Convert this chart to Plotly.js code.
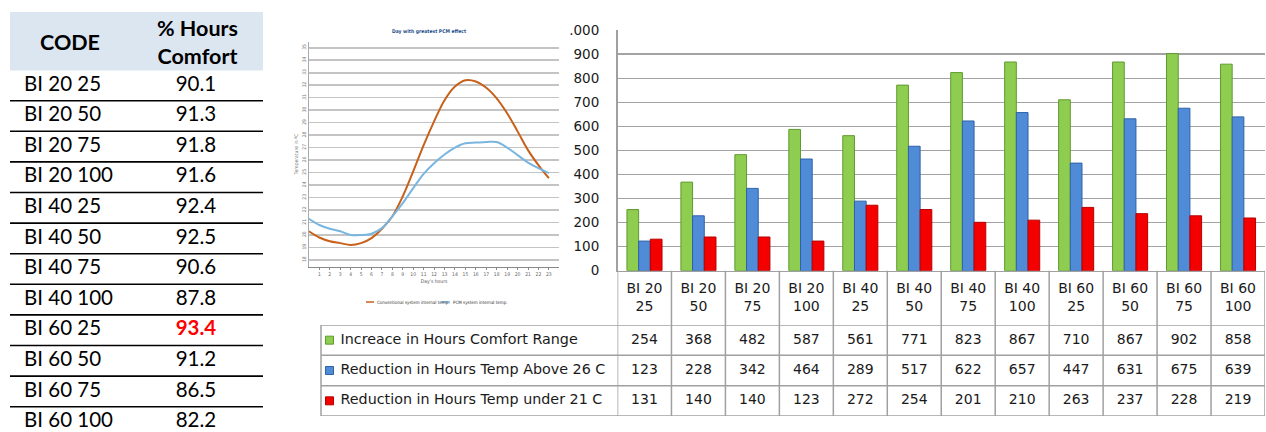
<!DOCTYPE html>
<html><head><meta charset="utf-8">
<script src="https://cdn.plot.ly/plotly-3.0.1.min.js"></script>
<style>html,body{margin:0;padding:0;background:#fff;}#chart{width:1266px;height:432px;}</style>
</head><body><div id="chart"></div>
<script>
// ---- Left table ----
const codes = ['BI 20 25','BI 20 50','BI 20 75','BI 20 100','BI 40 25','BI 40 50','BI 40 75','BI 40 100','BI 60 25','BI 60 50','BI 60 75','BI 60 100'];
const comfortPct = [90.1,91.3,91.8,91.6,92.4,92.5,90.6,87.8,93.4,91.2,86.5,82.2];
const tableHeaders = ['CODE','% Hours<br>Comfort'];

// ---- Line chart (Day with greatest PCM effect) ----
const hours = [0,1,2,3,4,5,6,7,8,9,10,11,12,13,14,15,16,17,18,19,20,21,22,23];
const conventionalTemp = [20.3,19.8,19.5,19.35,19.2,19.35,19.75,20.5,21.5,23.1,25.1,27.2,29.1,30.8,31.9,32.4,32.3,31.8,30.95,29.75,28.3,26.8,25.6,24.55];
const pcmTemp = [21.3,20.8,20.5,20.3,20.0,20.0,20.1,20.55,21.5,22.55,23.75,24.9,25.75,26.45,27.0,27.35,27.4,27.45,27.45,27.0,26.4,25.8,25.35,24.95];
const lineNames = ['Conventional system internal temp.','PCM system internal temp.'];
const hourTicks = [1,2,3,4,5,6,7,8,9,10,11,12,13,14,15,16,17,18,19,20,21,22,23];
const tempTicks = [18,19,20,21,22,23,24,25,26,27,28,29,30,31,32,33,34,35];

// ---- Bar chart ----
const categories = codes;
const seriesNames = ['Increace in Hours Comfort Range','Reduction in Hours Temp Above 26 C','Reduction in Hours Temp under 21 C'];
const increaseComfort = [254,368,482,587,561,771,823,867,710,867,902,858];
const reductionAbove26 = [123,228,342,464,289,517,622,657,447,631,675,639];
const reductionUnder21 = [131,140,140,123,272,254,201,210,263,237,228,219];
const yTickVals = [0,100,200,300,400,500,600,700,800,900,1000];
const yTickText = ['0','100','200','300','400','500','600','700','800','900','.000'];

const W = 1266, H = 432;
const px = v => v / W;
const py = v => 1 - v / H;

const barSeries = [increaseComfort, reductionAbove26, reductionUnder21];
const barColors = ['#8fcd50','#4f8bd6','#f50000'];
const barEdges = ['#5f9a30','#2f62a8','#b40000'];
const catLabels = categories.map(c => { const i = c.lastIndexOf(' '); return c.slice(0,i) + '<br>' + c.slice(i+1); });

const traces = [];
barSeries.forEach((vals, s) => {
  traces.push({type:'bar', x: categories, y: vals, name: seriesNames[s], xaxis:'x', yaxis:'y',
    marker:{color: barColors[s], line:{color: barEdges[s], width:1}}, showlegend:false, hoverinfo:'skip'});
});
// data table numbers
barSeries.forEach((vals, s) => {
  traces.push({type:'scatter', mode:'text', x: categories, y: vals.map(() => s), text: vals.map(String),
    xaxis:'x', yaxis:'y3', textfont:{family:'DejaVu Sans', size:14, color:'#1a1a1a'}, cliponaxis:false,
    showlegend:false, hoverinfo:'skip'});
});
// data table legend column: keys and names
traces.push({type:'scatter', mode:'markers', x: seriesNames.map(() => 0), y: seriesNames.map((n, i) => i),
  xaxis:'x3', yaxis:'y3', cliponaxis:false,
  marker:{symbol:'square', size:8, color: barColors, line:{color: barEdges, width:1}},
  showlegend:false, hoverinfo:'skip'});
traces.push({type:'scatter', mode:'text', x: seriesNames.map(() => 1), y: seriesNames.map((n, i) => i),
  text: seriesNames, textposition:'middle right', xaxis:'x3', yaxis:'y3', cliponaxis:false,
  textfont:{family:'DejaVu Sans', size:14.3, color:'#1a1a1a'}, showlegend:false, hoverinfo:'skip'});
// line chart
traces.push({type:'scatter', mode:'lines', x: hours, y: conventionalTemp, name: lineNames[0], xaxis:'x2', yaxis:'y2',
  line:{color:'#c8601a', width:2, shape:'spline'}, showlegend:false, hoverinfo:'skip'});
traces.push({type:'scatter', mode:'lines', x: hours, y: pcmTemp, name: lineNames[1], xaxis:'x2', yaxis:'y2',
  line:{color:'#78b6e0', width:2, shape:'spline'}, showlegend:false, hoverinfo:'skip'});
// left table
const maxPct = Math.max(...comfortPct);
traces.push({type:'scatter', mode:'text', x: codes.map(() => 0), y: codes.map((c, i) => i), text: codes,
  textposition:'middle right', xaxis:'x4', yaxis:'y4', cliponaxis:false,
  textfont:{family:'Lato', size:20.5, color:'#000'}, showlegend:false, hoverinfo:'skip'});
traces.push({type:'scatter', mode:'text', x: comfortPct.map(() => 1), y: comfortPct.map((v, i) => i),
  text: comfortPct.map(v => v === maxPct ? '<b>' + v.toFixed(1) + '</b>' : v.toFixed(1)),
  xaxis:'x4', yaxis:'y4', cliponaxis:false,
  textfont:{family:'Lato', size:20.5, color: comfortPct.map(v => v === maxPct ? '#ff0000' : '#000')},
  showlegend:false, hoverinfo:'skip'});

const shapes = [];
// left table header background
shapes.push({type:'rect', xref:'paper', yref:'paper', x0:px(10), x1:px(263), y0:py(12), y1:py(70.5),
  fillcolor:'#dce6f1', line:{width:0}, layer:'below'});
for (let i = 0; i < codes.length - 1; i++) {
  shapes.push({type:'line', xref:'paper', yref:'y4', x0:px(10), x1:px(263), y0:i+0.5, y1:i+0.5, line:{color:'#000', width:1.6}});
}
// data table grid
for (let i = 0; i <= categories.length; i++) {
  shapes.push({type:'line', xref:'x', yref:'paper', x0:i-0.5, x1:i-0.5, y0:py(270.7), y1:py(416), line:{color:'#a0a0a0', width:1.5}});
}
for (let r = 0; r <= seriesNames.length; r++) {
  shapes.push({type:'line', xref:'paper', yref:'y3', x0:px(321), x1:px(1265), y0:r-0.5, y1:r-0.5, line:{color:'#a0a0a0', width:1.5}});
}
shapes.push({type:'line', xref:'paper', yref:'y3', x0:px(321), x1:px(321), y0:-0.5, y1:seriesNames.length-0.5, line:{color:'#a0a0a0', width:1.5}});
// line chart legend keys
shapes.push({type:'line', xref:'paper', yref:'paper', x0:px(366), x1:px(374), y0:py(302), y1:py(302), line:{color:'#c8601a', width:1.5}});
shapes.push({type:'line', xref:'paper', yref:'paper', x0:px(441), x1:px(450), y0:py(302), y1:py(302), line:{color:'#78b6e0', width:1.5}});

const annotations = [
  {xref:'paper', yref:'paper', x:px(70), y:py(42), text:'<b>' + tableHeaders[0] + '</b>', showarrow:false,
   font:{family:'Lato', size:21.5, color:'#000'}, xanchor:'center', yanchor:'middle'},
  {xref:'paper', yref:'paper', x:px(197), y:py(42), text:'<b>' + tableHeaders[1] + '</b>', showarrow:false,
   font:{family:'Lato', size:21.5, color:'#000'}, xanchor:'center', yanchor:'middle'},
  {xref:'paper', yref:'paper', x:px(430), y:py(31), text:'<b>Day with greatest PCM effect</b>', showarrow:false,
   font:{family:'DejaVu Sans Condensed', size:5, color:'#1f4e8c'}, xanchor:'center', yanchor:'middle'},
  {xref:'paper', yref:'paper', x:px(375), y:py(302), text: lineNames[0], showarrow:false,
   font:{family:'DejaVu Sans Condensed', size:4.5, color:'#333'}, xanchor:'left', yanchor:'middle'},
  {xref:'paper', yref:'paper', x:px(451), y:py(302), text: lineNames[1], showarrow:false,
   font:{family:'DejaVu Sans Condensed', size:4.5, color:'#333'}, xanchor:'left', yanchor:'middle'}
];

const layout = {
  width: W, height: H, margin:{l:0, r:0, t:0, b:0}, paper_bgcolor:'#fff', plot_bgcolor:'rgba(0,0,0,0)',
  showlegend:false, hovermode:false, barmode:'group', bargap:0.35, bargroupgap:0,
  font:{family:'DejaVu Sans', color:'#1a1a1a'},
  xaxis:{domain:[px(617.5), px(1265)], anchor:'y', type:'category', range:[-0.5, 11.5],
    tickmode:'array', tickvals: categories, ticktext: catLabels, ticks:'', ticklabelstandoff:4,
    tickfont:{family:'DejaVu Sans', size:14, color:'#1a1a1a'}, showline:true, linecolor:'#a0a0a0', linewidth:1.5,
    showgrid:false, fixedrange:true},
  yaxis:{domain:[py(270.7), py(30)], anchor:'x', range:[0, 1000], tickmode:'array', tickvals: yTickVals, ticktext: yTickText,
    ticks:'', ticklabelstandoff:14, tickfont:{family:'DejaVu Sans', size:13.5, color:'#1a1a1a'},
    showgrid:true, gridcolor:'#a3a3a3', gridwidth:1.2, zeroline:false, showline:true, linecolor:'#a0a0a0', linewidth:1.5, fixedrange:true},
  xaxis2:{domain:[px(308.9), px(559.3)], anchor:'y2', range:[0, 24], tickmode:'array', tickvals: hourTicks,
    ticks:'outside', ticklen:2, tickcolor:'#888', tickfont:{family:'DejaVu Sans Condensed', size:5, color:'#666'},
    showline:true, linecolor:'#888', linewidth:1.2, showgrid:false, zeroline:false,
    title:{text:"Day's hours", font:{family:'DejaVu Sans Condensed', size:5, color:'#555'}, standoff:3}},
  yaxis2:{domain:[py(266.7), py(41.5)], anchor:'x2', range:[17.46, 35.5], tickmode:'array', tickvals: tempTicks,
    tickangle:-90, ticks:'', tickfont:{family:'DejaVu Sans Condensed', size:5, color:'#777'},
    showgrid:true, gridcolor:'#c4c4c4', gridwidth:1.6, zeroline:false, showline:true, linecolor:'#aaa', linewidth:1,
    title:{text:'Temperature in ºC', font:{family:'DejaVu Sans Condensed', size:5, color:'#777'}, standoff:2}},
  xaxis3:{domain:[px(321), px(617)], anchor:'y3', range:[-0.772, 26.128], visible:false, fixedrange:true},
  yaxis3:{domain:[py(416), py(325)], anchor:'x3', range:[2.5, -0.5], visible:false, fixedrange:true},
  xaxis4:{domain:[px(10), px(263)], anchor:'y4', range:[-0.0814, 1.3898], visible:false, fixedrange:true},
  yaxis4:{domain:[0, py(70.1)], anchor:'x4', range:[11.327, -0.5], visible:false, fixedrange:true},
  shapes: shapes, annotations: annotations
};

Plotly.newPlot('chart', traces, layout, {staticPlot:true, displayModeBar:false});
</script></body></html>
